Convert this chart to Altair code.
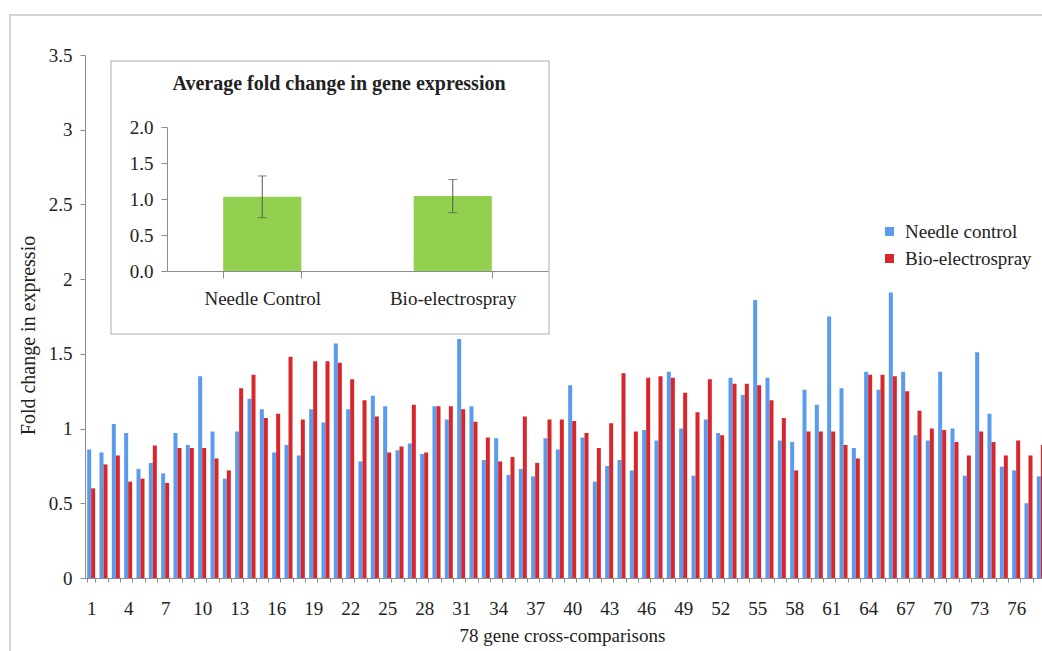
import altair as alt
import pandas as pd

# ---- data -------------------------------------------------------------
comparisons = list(range(1, 79))

needle_control = [
    0.86, 0.84, 1.03, 0.97, 0.73, 0.77, 0.70, 0.97, 0.89, 1.35,
    0.98, 0.665, 0.98, 1.20, 1.13, 0.84, 0.89, 0.82, 1.13, 1.04,
    1.57, 1.13, 0.78, 1.22, 1.15, 0.855, 0.90, 0.83, 1.15, 1.06,
    1.60, 1.15, 0.79, 0.935, 0.69, 0.73, 0.68, 0.935, 0.86, 1.29,
    0.94, 0.645, 0.75, 0.79, 0.72, 0.99, 0.92, 1.38, 1.00, 0.685,
    1.06, 0.97, 1.34, 1.225, 1.86, 1.34, 0.92, 0.91, 1.26, 1.16,
    1.75, 1.27, 0.87, 1.38, 1.26, 1.91, 1.38, 0.955, 0.92, 1.38,
    1.00, 0.685, 1.51, 1.10, 0.745, 0.72, 0.50, 0.68,
]

bio_electrospray = [
    0.60, 0.76, 0.82, 0.645, 0.665, 0.886, 0.636, 0.87, 0.87, 0.87,
    0.80, 0.72, 1.27, 1.36, 1.07, 1.10, 1.48, 1.06, 1.45, 1.45,
    1.44, 1.33, 1.19, 1.08, 0.84, 0.88, 1.16, 0.84, 1.15, 1.15,
    1.13, 1.045, 0.94, 0.78, 0.81, 1.08, 0.77, 1.06, 1.06, 1.05,
    0.97, 0.87, 1.035, 1.37, 0.98, 1.34, 1.35, 1.34, 1.24, 1.11,
    1.33, 0.955, 1.30, 1.30, 1.29, 1.19, 1.07, 0.72, 0.98, 0.98,
    0.98, 0.89, 0.80, 1.36, 1.36, 1.35, 1.25, 1.12, 1.00, 0.99,
    0.91, 0.82, 0.98, 0.91, 0.82, 0.92, 0.82, 0.89,
]

series_names = ["Needle control", "Bio-electrospray"]
series_colors = ["#5B9BEE", "#D8262D"]

avg_groups = ["Needle Control", "Bio-electrospray"]
avg_fold = [1.03, 1.04]
avg_err = [0.29, 0.23]

y_ticks = [0, 0.5, 1, 1.5, 2, 2.5, 3, 3.5]
inset_ticks = [0, 0.5, 1.0, 1.5, 2.0]

FONT = "Liberation Serif"
INK = "#222222"
AXIS_GREY = "#8c8c8c"
W, H = 957, 523
X_RANGE = 962

long = pd.DataFrame({
    "comparison": comparisons * 2,
    "series": [series_names[0]] * len(comparisons) + [series_names[1]] * len(comparisons),
    "fold": needle_control + bio_electrospray,
})
avg = pd.DataFrame({"group": avg_groups, "fold": avg_fold, "err": avg_err})
blank = pd.DataFrame({"k": [0]})

# ---- outer frame --------------------------------------------------------
frame_left = alt.Chart(blank).mark_rule(color="#d2d2d2", strokeWidth=2).encode(
    x=alt.value(-75), y=alt.value(-40), y2=alt.value(600)
)
frame_top = alt.Chart(blank).mark_rule(color="#d2d2d2", strokeWidth=2).encode(
    x=alt.value(-76), x2=alt.value(W + 10), y=alt.value(-40)
)

# ---- grouped bars for the 78 comparisons --------------------------------
bars = alt.Chart(long).mark_bar().encode(
    x=alt.X(
        "comparison:O",
        title="78 gene cross-comparisons",
        scale=alt.Scale(range=[0, X_RANGE], paddingInner=0.35, paddingOuter=0.175),
        axis=alt.Axis(
            labelExpr="(datum.value - 1) % 3 == 0 ? datum.label : ''",
            labelAngle=0,
            labelOverlap=False,
            tickBand="extent",
            tickSize=4,
            tickColor=AXIS_GREY,
            domainColor=AXIS_GREY,
            labelFontSize=19,
            labelPadding=17,
            titleFontSize=19,
            titleX=477,
            titleY=63,
            titleAlign="center",
            titleBaseline="alphabetic",
        ),
    ),
    xOffset=alt.XOffset(
        "series:N",
        sort=series_names,
        scale=alt.Scale(domain=series_names, paddingInner=0, paddingOuter=0),
    ),
    y=alt.Y(
        "fold:Q",
        title="Fold change in expressio",
        scale=alt.Scale(domain=[0, 3.5], nice=False),
        axis=alt.Axis(
            values=y_ticks,
            format="~g",
            tickSize=5,
            tickColor=AXIS_GREY,
            domainColor=AXIS_GREY,
            labelFontSize=19,
            labelPadding=8,
            titleFontSize=20,
            titleAngle=270,
            titleX=-57,
            titleY=280,
            titleAlign="center",
            titleBaseline="middle",
        ),
    ),
    color=alt.Color(
        "series:N",
        sort=series_names,
        scale=alt.Scale(domain=series_names, range=series_colors),
        legend=alt.Legend(
            title=None,
            orient="none",
            legendX=795,
            legendY=167,
            symbolType="square",
            symbolSize=81,
            symbolStrokeWidth=0,
            labelFont=FONT,
            labelFontSize=19,
            labelColor=INK,
            labelOffset=6,
            rowPadding=7,
            padding=0,
        ),
    ),
)

# ---- inset: average fold change ----------------------------------------
inset_box = alt.Chart(blank).mark_rect(
    fill="white", stroke="#c8c8c8", strokeWidth=1.5
).encode(x=alt.value(26), x2=alt.value(464), y=alt.value(6), y2=alt.value(279))

inset_title = alt.Chart(blank).mark_text(
    font=FONT, fontSize=20, fontWeight="bold", color=INK, align="center", baseline="middle"
).encode(x=alt.value(254), y=alt.value(29), text=alt.value("Average fold change in gene expression"))

inset_x = alt.X(
    "group:N",
    sort=avg_groups,
    title=None,
    scale=alt.Scale(domain=avg_groups, range=[82, 463], paddingInner=0.59, paddingOuter=0.295),
    axis=alt.Axis(
        orient="bottom",
        offset=-307,
        zindex=2,
        tickBand="extent",
        labelAngle=0,
        tickSize=7,
        tickColor=AXIS_GREY,
        domainColor=AXIS_GREY,
        labelFontSize=19,
        labelPadding=11,
    ),
)
inset_y = alt.Y(
    "fold:Q",
    title=None,
    scale=alt.Scale(domain=[0, 2], range=[216, 72], nice=False),
    axis=alt.Axis(
        orient="left",
        offset=-82,
        zindex=2,
        values=inset_ticks,
        format=".1f",
        tickSize=6,
        tickColor=AXIS_GREY,
        domainColor=AXIS_GREY,
        labelFontSize=19,
        labelPadding=8,
    ),
)

inset_bars = alt.Chart(avg).mark_bar(color="#92D050").encode(x=inset_x, y=inset_y)

inset_whisker = alt.Chart(avg).transform_calculate(
    lo="datum.fold - datum.err", hi="datum.fold + datum.err"
).mark_rule(color="#555555", strokeWidth=1).encode(
    x=alt.X("group:N", sort=avg_groups, title=None),
    y=alt.Y("lo:Q", title=None),
    y2="hi:Q",
)
inset_cap_lo = alt.Chart(avg).transform_calculate(
    lo="datum.fold - datum.err"
).mark_tick(color="#555555", size=9, thickness=1).encode(
    x=alt.X("group:N", sort=avg_groups, title=None),
    y=alt.Y("lo:Q", title=None),
)
inset_cap_hi = alt.Chart(avg).transform_calculate(
    hi="datum.fold + datum.err"
).mark_tick(color="#555555", size=9, thickness=1).encode(
    x=alt.X("group:N", sort=avg_groups, title=None),
    y=alt.Y("hi:Q", title=None),
)

inset = alt.layer(inset_bars, inset_whisker, inset_cap_lo, inset_cap_hi)

chart = alt.layer(
    frame_left, frame_top, bars, inset_box, inset_title, inset
).resolve_scale(
    x="independent", y="independent"
).properties(
    width=W,
    height=H,
    autosize=alt.AutoSizeParams(type="none"),
    padding={"left": 85, "top": 55, "right": 0, "bottom": 73},
    background="white",
).configure_view(
    stroke=None
).configure_axis(
    labelFont=FONT,
    titleFont=FONT,
    labelColor=INK,
    titleColor=INK,
    titleFontWeight="normal",
    grid=False,
)

chart.save("out.html", embed_options={"renderer": "svg", "actions": False})
